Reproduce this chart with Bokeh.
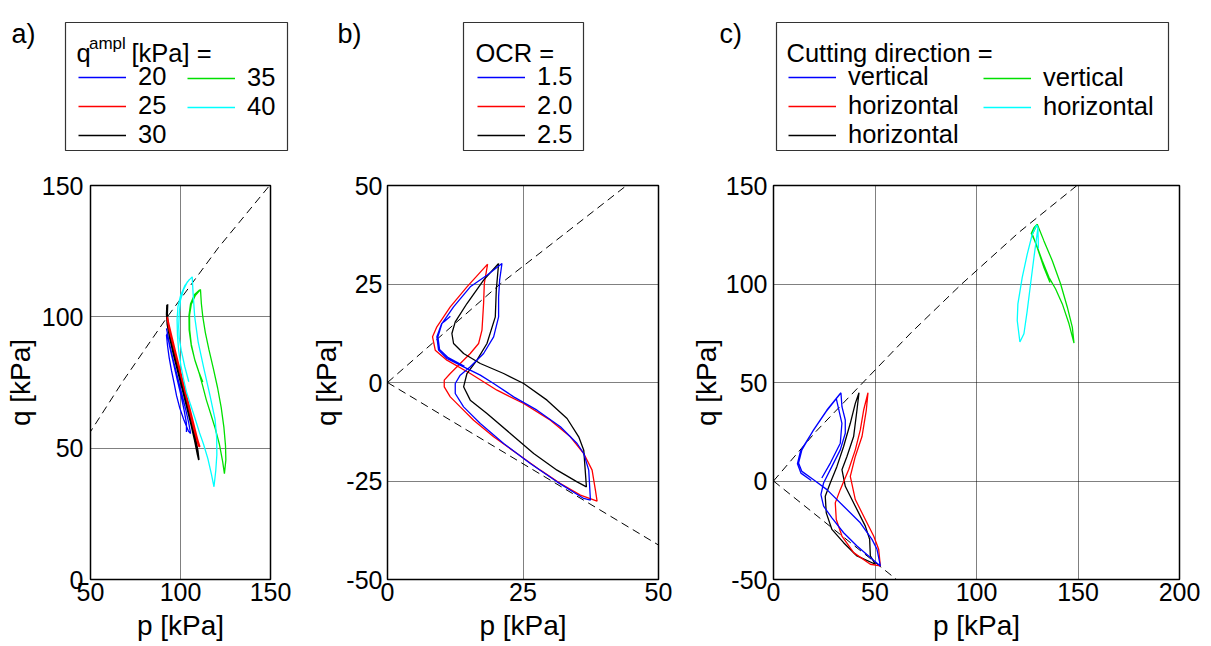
from bokeh.plotting import figure
from bokeh.layouts import row, column
from bokeh.models import Range1d, FixedTicker, Legend, LegendItem
from bokeh.core.properties import value
from bokeh.embed import file_html
from bokeh.resources import INLINE

FONT = "Liberation Sans"
NAN = float("nan")

# ---- limit lines in the p-q plane -------------------------------------------
csl_comp_p = [0, 20.8, 44.1, 68.0, 92.7, 121.0, 149.5]
csl_comp_q = [0, 25.0, 50.0, 75.5, 100.0, 126.3, 150.0]
csl_ext_p = [0, 60.6]
csl_ext_q = [0, -50.0]

# ---- a) stress amplitude series ---------------------------------------------
a_ampl_labels = ["20", "25", "30", "35", "40"]

a20_p = [92.2, 93.8, 95.8, 98.2, 100.6, 102.8, 104.6, 105.6, 104.4, 102.0, 99.5, 97.8, 96.5, 95.0,
         93.7, 92.8, 92.2, 92.6, 94.2, 96.2, 98.2, 100.3, 102.0, 103.3, 103.3]
a20_q = [95.6, 90.0, 84.0, 77.5, 71.0, 65.0, 59.5, 55.6, 56.5, 60.5, 65.5, 70.0, 74.6, 79.5,
         84.5, 89.0, 93.0, 93.5, 88.0, 82.0, 76.0, 70.0, 64.5, 59.5, 56.2]

a25_p = [92.6, 94.5, 96.8, 99.2, 101.6, 104.0, 106.3, 108.4, 110.7, 110.0, 107.6, 105.3, 103.0,
         100.6, 98.2, 95.8, 93.8, 92.7, 93.2, 95.3, 97.6, 100.0, 102.4, 104.8, 107.0, 109.0, 110.3]
a25_q = [100.0, 94.0, 87.5, 81.0, 74.5, 68.0, 61.5, 55.5, 50.5, 51.0, 57.0, 63.5, 70.0,
         76.5, 83.0, 89.5, 95.0, 99.2, 98.0, 92.0, 85.5, 79.0, 72.5, 66.0, 60.0, 54.5, 51.2]

a30_p = [92.8, 92.6, 93.0, 95.0, 97.3, 99.6, 102.0, 104.3, 106.6, 108.4, 109.6, 110.2,
         109.5, 107.9, 105.9, 103.6, 101.2, 98.8, 96.4, 94.2, 92.7, 92.3, 92.5]
a30_q = [104.8, 101.0, 97.5, 91.5, 85.0, 78.5, 72.0, 65.5, 59.0, 53.5, 49.0, 45.5,
         47.5, 53.0, 59.0, 65.5, 72.0, 78.5, 85.0, 91.5, 97.0, 101.0, 104.5]

a35_p = [112.4, 110.2, 107.8, 106.0, 105.1, 105.0, 106.0, 108.3, 111.1,
         111.6, 112.4, 113.8, 115.8, 118.2, 120.6, 122.6, 124.1, 125.0, 125.2, 124.4,
         123.4, 121.6, 119.3, 116.6, 114.3, 112.4, 110.4, 108.0, 106.0, 104.8, 104.7,
         105.6, 107.8, 110.6]
a35_q = [75.2, 79.0, 84.0, 89.5, 95.0, 100.5, 104.8, 108.2, 110.4,
         105.0, 100.0, 94.0, 87.5, 80.5, 73.0, 65.5, 58.0, 51.0, 45.5, 40.3,
         45.0, 51.5, 57.5, 63.5, 68.5, 73.5, 78.5, 83.5, 89.0, 95.0, 100.5,
         105.0, 108.5, 110.2]

a40_p = [104.6, 102.4, 100.4, 99.3, 99.0, 99.3, 100.0, 101.8, 103.8, 106.5,
         107.0, 107.9, 109.8, 113.0, 116.4, 119.2, 120.1, 120.2, 119.6, 118.6,
         117.2, 115.2, 112.8, 110.5, 108.0, 105.6, 103.3, 101.6, 100.2, 99.0, 98.3,
         98.1, 98.6, 100.0, 102.5, 105.0]
a40_q = [75.3, 81.0, 87.3, 92.0, 96.2, 101.0, 106.4, 110.5, 113.3, 115.2,
         108.9, 100.0, 90.5, 80.3, 70.0, 61.0, 54.0, 47.5, 41.5, 35.3,
         40.0, 46.0, 51.5, 56.0, 61.5, 66.5, 71.5, 76.5, 81.5, 87.0, 93.0,
         99.0, 104.0, 108.0, 112.0, 114.3]

# ---- b) overconsolidation ratio series --------------------------------------
b_ocr_labels = ["1.5", "2.0", "2.5"]

b15_p = [11.6, 10.6, 10.0, 9.11, 9.42, 10.96, 14.04, 17.12, 19.58, 23.28, 27.59, 31.9, 34.98,
         36.21, 37.13, 37.44, 36.21, 31.28, 26.35, 21.43, 17.12, 14.04, 12.5, 12.5, 13.42,
         15.27, 17.73, 19.58, 20.5, 20.5, 20.69, 21.12, 18.35, 15.27, 12.19, 10.04, 9.3,
         9.6, 11.2, 14.2]
b15_q = [16.8, 15.6, 14.97, 11.59, 8.21, 6.09, 3.98, 1.86, -0.25, -3.64, -7.02, -11.25, -15.48,
         -18.02, -22.25, -29.86, -29.44, -25.21, -20.56, -15.48, -10.41, -6.18, -2.79, -0.25, 1.86,
         3.98, 7.36, 11.59, 16.67, 21.74, 25.97, 30.2, 27.24, 24.28, 19.2, 14.97, 11.6,
         8.4, 6.3, 4.1]

b20_p = [18.47, 17.86, 17.73, 17.43, 16.81, 15.27, 13.42, 11.58, 10.47, 10.47, 11.58, 13.42,
         15.89, 19.58, 23.89, 28.2, 31.9, 35.59, 38.67, 38.36, 37.75, 36.21, 33.74, 30.05,
         25.12, 20.2, 15.27, 10.96, 8.81, 8.31, 9.11, 11.58, 14.66, 18.47]
b20_q = [30.03, 25.13, 20.05, 13.28, 9.9, 7.36, 4.82, 2.28, 0.59, -1.1, -3.64, -6.18,
         -9.56, -13.79, -18.02, -22.25, -25.63, -28.6, -30.12, -27.33, -22.25, -18.02, -13.79, -9.56,
         -5.33, -1.95, 2.28, 5.67, 8.21, 11.59, 14.13, 19.2, 24.28, 30.03]

b25_p = [12.9, 12.5, 14.66, 17.73, 20.5, 17.73, 14.66, 12.5, 11.88, 12.19, 14.04, 17.12, 21.43,
         25.12, 29.43, 33.13, 35.28, 36.21, 36.7, 34.98, 31.28, 26.97, 22.66, 18.35, 15.27,
         14.04, 14.66, 16.5, 18.35, 19.89, 20.07, 20.5]
b25_q = [16.2, 15.4, 20.05, 25.97, 30.2, 25.97, 20.05, 15.4, 12.44, 9.9, 7.36, 4.82, 2.28,
         -0.25, -4.48, -9.14, -13.79, -17.17, -26.48, -25.21, -22.25, -18.02, -12.94, -7.87, -4.48,
         -1.1, 2.28, 5.67, 9.9, 16.67, 23.43, 30.2]

# ---- c) cutting direction series --------------------------------------------
c_dir_labels = ["vertical", "horizontal", "horizontal", "vertical", "horizontal"]

c_blue_p = [23.8, 28.0, 32.9, 33.7, 30.9, 33.22, 26.32, 19.74, 13.98, 12.34, 13.98, 19.74,
            26.32, 34.54, 42.76, 48.52, 50.99, 52.63, 47.7, 41.12, 34.54, 28.78, 24.67, 23.36,
            24.67, 28.78, 32.89, 35.36, 35.36, 33.72, 33.22, 26.0, 19.2, 13.3, 11.8, 13.5, 18.6]
c_blue_q = [1.5, 9.1, 19.2, 29.3, 41.9, 44.78, 36.03, 25.93, 15.82, 9.09, 4.88, 0.67,
            -4.38, -12.79, -21.21, -29.63, -34.68, -43.1, -38.89, -33.0, -26.26, -18.69, -12.79, -6.9,
            -1.01, 7.41, 15.82, 24.24, 30.98, 37.71, 44.78, 35.4, 25.0, 15.2, 8.8, 4.0, 0.3]

c_red_p = [46.55, 45.72, 43.59, 40.3, 37.83, 40.3, 45.23, 49.34, 51.81, 52.63, 47.7, 39.47,
           33.72, 30.92, 30.43, 32.89, 37.01, 40.3, 42.76, 44.41, 46.55]
c_red_q = [44.78, 36.03, 22.56, 12.46, 2.36, -9.43, -19.53, -27.95, -34.68, -43.1, -42.26, -36.36,
           -27.95, -19.53, -11.11, -4.38, 5.72, 15.82, 25.93, 36.03, 44.78]

c_black_p = [42.11, 41.12, 39.47, 36.18, 33.72, 35.36, 40.3, 45.23, 47.37, 47.7, 50.16, 41.12,
             34.54, 28.78, 25.99, 25.49, 27.96, 31.25, 34.54, 37.83, 40.3, 42.11]
c_black_q = [44.78, 36.03, 22.56, 12.46, 5.72, -2.69, -12.79, -22.9, -29.63, -38.05, -42.26, -38.05,
             -31.31, -24.58, -16.16, -7.74, -1.01, 7.41, 17.51, 29.29, 39.39, 44.78]

c_green_p = [136.2, 133.2, 129.9, 127.5, 129.93, 133.22, 137.34, 141.45, 144.74, 147.2, 148.03,
             145.56, 142.27, 138.98, 135.69, 132.4, 129.11, 126.97, 128.29, 129.93]
c_green_q = [100.8, 108.4, 118.5, 125.3, 130.3, 121.89, 111.78, 100.0, 88.22, 78.11, 70.03,
             79.8, 89.9, 97.47, 103.37, 111.78, 121.04, 125.59, 128.6, 130.3]

c_cyan_p = [130.5, 130.26, 129.61, 127.47, 125.0, 122.53, 120.39, 120.07, 121.38, 123.36, 125.0,
            126.64, 128.29, 129.61, 130.26]
c_cyan_q = [118.0, 128.62, 129.97, 125.25, 115.15, 103.37, 89.9, 81.48, 70.54, 74.75, 86.53,
            100.0, 113.47, 123.57, 128.62]

BLUE, RED, BLACK, GREEN, CYAN = "#0000ff", "#ff0000", "#000000", "#00e000", "#00ffff"
LW = 1.3
HEAD_H = 170      # height of the legend strip above each panel
FRAME_H = 394
LEG_FONT = "25.5px"

# canvas x of each column: (left edge, width)
COLS = [(0, 300), (300, 385), (685, 526)]


def hyphen_labels(ticks):
    return {t: str(t) for t in ticks if t < 0}


def make_panel(xr, yr, xt, yt, frame_w, left, right, tick_standoff, label_standoff):
    f = figure(frame_width=frame_w, frame_height=FRAME_H,
               x_range=Range1d(*xr), y_range=Range1d(*yr),
               output_backend="svg", toolbar_location=None, title=None,
               min_border_left=left, min_border_right=right,
               min_border_top=15, min_border_bottom=62)
    f.xaxis.ticker = FixedTicker(ticks=xt)
    f.yaxis.ticker = FixedTicker(ticks=yt)
    f.yaxis.major_label_overrides = hyphen_labels(yt)
    f.xaxis.axis_label = "p [kPa]"
    f.yaxis.axis_label = "q [kPa]"
    for ax in f.axis:
        ax.major_tick_out = 0
        ax.major_tick_in = 0
        ax.minor_tick_out = 0
        ax.minor_tick_in = 0
        ax.axis_line_color = None
        ax.major_label_text_font = FONT
        ax.major_label_text_font_size = "25px"
        ax.major_label_text_color = "black"
        ax.axis_label_text_font = FONT
        ax.axis_label_text_font_size = "28px"
        ax.axis_label_text_font_style = "normal"
        ax.axis_label_text_color = "black"
    f.xaxis.major_label_standoff = 3
    f.xaxis.axis_label_standoff = 6
    f.yaxis.major_label_standoff = tick_standoff
    f.yaxis.axis_label_standoff = label_standoff
    f.grid.grid_line_color = "black"
    f.grid.grid_line_dash = "1 1"
    f.grid.grid_line_width = 1
    f.outline_line_color = "black"
    f.outline_line_width = 1.5
    f.background_fill_color = "white"
    f.border_fill_color = "white"
    f.line(csl_comp_p, csl_comp_q, line_color="black", line_width=1, line_dash="8 5")
    f.line(csl_ext_p, csl_ext_q, line_color="black", line_width=1, line_dash="8 5")
    return f


def make_header(x0, width):
    # data units equal canvas pixels: x from the page's left edge, y downwards
    h = figure(width=width, height=HEAD_H,
               x_range=Range1d(x0, x0 + width), y_range=Range1d(HEAD_H, 0),
               output_backend="svg", toolbar_location=None, title=None,
               x_axis_location=None, y_axis_location=None,
               min_border_left=0, min_border_right=0, min_border_top=0, min_border_bottom=0)
    h.outline_line_color = None
    h.grid.visible = False
    h.background_fill_color = "white"
    h.border_fill_color = "white"
    return h


def htext(h, x, y, s, size=LEG_FONT):
    h.text(x=[x], y=[y], text=[s], text_font=value(FONT), text_font_size=size,
           text_color="black", text_baseline="alphabetic", text_align="left")


def hbox(h, left, right, top, bottom):
    h.quad(left=[left], right=[right], top=[top], bottom=[bottom],
           fill_color="white", line_color="#333333", line_width=1.2)


def hlegend(h, x0, labels, colors, gx, top):
    items = []
    for lab, col in zip(labels, colors):
        # swatch-only renderer: a single undefined point, nothing plotted
        r = h.line([NAN], [NAN], line_color=col, line_width=LW)
        items.append(LegendItem(label=lab, renderers=[r]))
    bottom = top + 28 * len(labels)
    h.add_layout(Legend(items=items, location=(gx - x0, HEAD_H - bottom), orientation="vertical",
                        glyph_width=48, glyph_height=28, label_height=28, label_width=10,
                        spacing=0, padding=0, margin=0, label_standoff=12,
                        border_line_alpha=0, background_fill_alpha=0,
                        label_text_font=FONT, label_text_font_size=LEG_FONT,
                        label_text_color="black"))


# ---------------------------------------------------------------- panel a
pa = make_panel((50, 150), (0, 150), [50, 100, 150], [0, 50, 100, 150],
                180, 90, 30, 7, 3)
pa.line(a20_p, a20_q, line_color=BLUE, line_width=LW)
pa.line(a30_p, a30_q, line_color=BLACK, line_width=LW + 0.4)
pa.line(a25_p, a25_q, line_color=RED, line_width=LW + 0.4)
pa.line(a35_p, a35_q, line_color=GREEN, line_width=LW)
pa.line(a40_p, a40_q, line_color=CYAN, line_width=LW)

ha = make_header(*COLS[0])
htext(ha, 11, 33, "a)", "27px")
hbox(ha, 65, 287, 22, 150)
htext(ha, 76, 52.5, "q")
htext(ha, 88.5, 43, "ampl", "17px")
htext(ha, 131, 52.5, "[kPa] =")
hlegend(ha, COLS[0][0], a_ampl_labels[:3], [BLUE, RED, BLACK], 78, 65)
hlegend(ha, COLS[0][0], a_ampl_labels[3:], [GREEN, CYAN], 187, 65)

# ---------------------------------------------------------------- panel b
pb = make_panel((0, 50), (-50, 50), [0, 25, 50], [-50, -25, 0, 25, 50],
                271, 87, 27, 5, 1)
pb.line(b20_p, b20_q, line_color=RED, line_width=LW)
pb.line(b25_p, b25_q, line_color=BLACK, line_width=LW)
pb.line(b15_p, b15_q, line_color=BLUE, line_width=LW)

hb = make_header(*COLS[1])
htext(hb, 337, 33, "b)", "27px")
hbox(hb, 463, 583, 22, 150)
htext(hb, 475, 52.5, "OCR =")
hlegend(hb, COLS[1][0], b_ocr_labels, [BLUE, RED, BLACK], 477, 65)

# ---------------------------------------------------------------- panel c
pc = make_panel((0, 200), (-50, 150), [0, 50, 100, 150, 200], [-50, 0, 50, 100, 150],
                406, 88, 32, 6, 1)
pc.line(c_black_p, c_black_q, line_color=BLACK, line_width=LW)
pc.line(c_red_p, c_red_q, line_color=RED, line_width=LW)
pc.line(c_blue_p, c_blue_q, line_color=BLUE, line_width=LW)
pc.line(c_green_p, c_green_q, line_color=GREEN, line_width=LW)
pc.line(c_cyan_p, c_cyan_q, line_color=CYAN, line_width=LW)

hc = make_header(*COLS[2])
htext(hc, 719, 33, "c)", "27px")
hbox(hc, 776, 1168, 22, 150)
htext(hc, 786, 52.5, "Cutting direction =")
hlegend(hc, COLS[2][0], c_dir_labels[:3], [BLUE, RED, BLACK], 788, 65)
hlegend(hc, COLS[2][0], c_dir_labels[3:], [GREEN, CYAN], 983, 65)

layout = column(row(ha, hb, hc), row(pa, pb, pc))
open("out.html", "w").write(file_html(layout, INLINE))
